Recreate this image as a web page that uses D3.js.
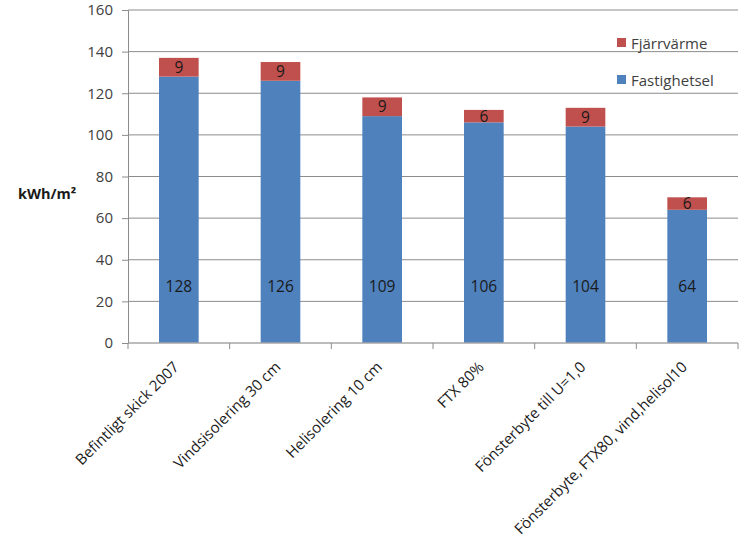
<!DOCTYPE html>
<html>
<head>
<meta charset="utf-8">
<script src="https://cdn.jsdelivr.net/npm/d3@7"></script>
<style>
  body { margin: 0; background: #fff; }
  svg { font-family: "Open Sans", "Liberation Sans", sans-serif; }
</style>
</head>
<body>
<svg id="chart"></svg>
<script>
const categories = ["Befintligt skick 2007", "Vindsisolering 30 cm", "Helisolering 10 cm", "FTX 80%", "Fönsterbyte till U=1,0", "Fönsterbyte, FTX80, vind,helisol10"];
const fastighetsel = [128, 126, 109, 106, 104, 64];
const fjarrvarme = [9, 9, 9, 6, 9, 6];
const yTicks = [0, 20, 40, 60, 80, 100, 120, 140, 160];

const w = 743, h = 548;
const plotL = 128, plotR = 738, plotT = 10, plotB = 343;

const svg = d3.select("#chart").attr("width", w).attr("height", h);

const x = d3.scaleBand().domain(categories).range([plotL, plotR]).paddingInner(0.61).paddingOuter(0.305);
const y = d3.scaleLinear().domain([0, 160]).range([plotB, plotT]);

// gridlines
svg.append("g").selectAll("line").data(yTicks.slice(1)).enter().append("line")
  .attr("x1", plotL).attr("x2", plotR)
  .attr("y1", d => y(d)).attr("y2", d => y(d))
  .attr("stroke", "#8c8c8c").attr("stroke-width", 1);

// y axis
const yAxis = svg.append("g").attr("transform", `translate(${plotL},0)`)
  .call(d3.axisLeft(y).tickValues(yTicks).tickSize(6).tickPadding(9));
yAxis.select(".domain").attr("stroke", "#8c8c8c");
yAxis.selectAll(".tick line").attr("stroke", "#8c8c8c");
yAxis.selectAll(".tick text").attr("font-size", 15).attr("fill", "#404040")
  .attr("font-family", "'Open Sans', sans-serif");

// bars
const stackData = categories.map((c, i) => ({ c, el: fastighetsel[i], fv: fjarrvarme[i] }));
const g = svg.append("g");
g.selectAll("rect.el").data(stackData).enter().append("rect")
  .attr("x", d => x(d.c)).attr("width", x.bandwidth())
  .attr("y", d => y(d.el)).attr("height", d => y(0) - y(d.el))
  .attr("fill", "#4f81bd");
g.selectAll("rect.fv").data(stackData).enter().append("rect")
  .attr("x", d => x(d.c)).attr("width", x.bandwidth())
  .attr("y", d => y(d.el + d.fv)).attr("height", d => y(d.el) - y(d.el + d.fv))
  .attr("fill", "#c0504d");

// x axis
const xAxisG = svg.append("g").attr("transform", `translate(0,${plotB})`);
xAxisG.append("line").attr("x1", plotL).attr("x2", plotR).attr("stroke", "#a6a6a6").attr("stroke-width", 1.5);
const bounds = d3.range(categories.length + 1).map(i => plotL + i * (plotR - plotL) / categories.length);
xAxisG.selectAll("line.t").data(bounds).enter().append("line")
  .attr("x1", d => d).attr("x2", d => d).attr("y1", 0).attr("y2", 6)
  .attr("stroke", "#8c8c8c");

svg.append("g").selectAll("text").data(categories).enter().append("text")
  .attr("transform", d => `translate(${x(d) + x.bandwidth() / 2 + 1},${plotB + 25}) rotate(-45)`)
  .attr("text-anchor", "end")
  .attr("font-size", 15).attr("fill", "#1a1a1a")
  .text(d => d);

// value labels
g.selectAll("text.el").data(stackData).enter().append("text")
  .attr("x", d => x(d.c) + x.bandwidth() / 2).attr("y", y(27) + 5)
  .attr("text-anchor", "middle").attr("font-size", 15.5).attr("fill", "#1a1a1a")
  .text(d => d.el);
g.selectAll("text.fv").data(stackData).enter().append("text")
  .attr("x", d => x(d.c) + x.bandwidth() / 2)
  .attr("y", d => (y(d.el) + y(d.el + d.fv)) / 2 + 5.5)
  .attr("text-anchor", "middle").attr("font-size", 15.5).attr("fill", "#1a1a1a")
  .text(d => d.fv);

// y label
svg.append("text").attr("x", 18).attr("y", 199)
  .attr("font-size", 14.5).attr("font-weight", "bold").attr("fill", "#1a1a1a")
  .text("kWh/m²");

// legend
const legend = [{ name: "Fjärrvärme", color: "#c0504d" }, { name: "Fastighetsel", color: "#4f81bd" }];
const lg = svg.append("g").selectAll("g").data(legend).enter().append("g")
  .attr("transform", (d, i) => `translate(617,${38 + i * 37})`);
lg.append("rect").attr("width", 9).attr("height", 9).attr("fill", d => d.color);
lg.append("text").attr("x", 14).attr("y", 10.5).attr("font-size", 15).attr("fill", "#404040")
  .text(d => d.name);
</script>
</body>
</html>
